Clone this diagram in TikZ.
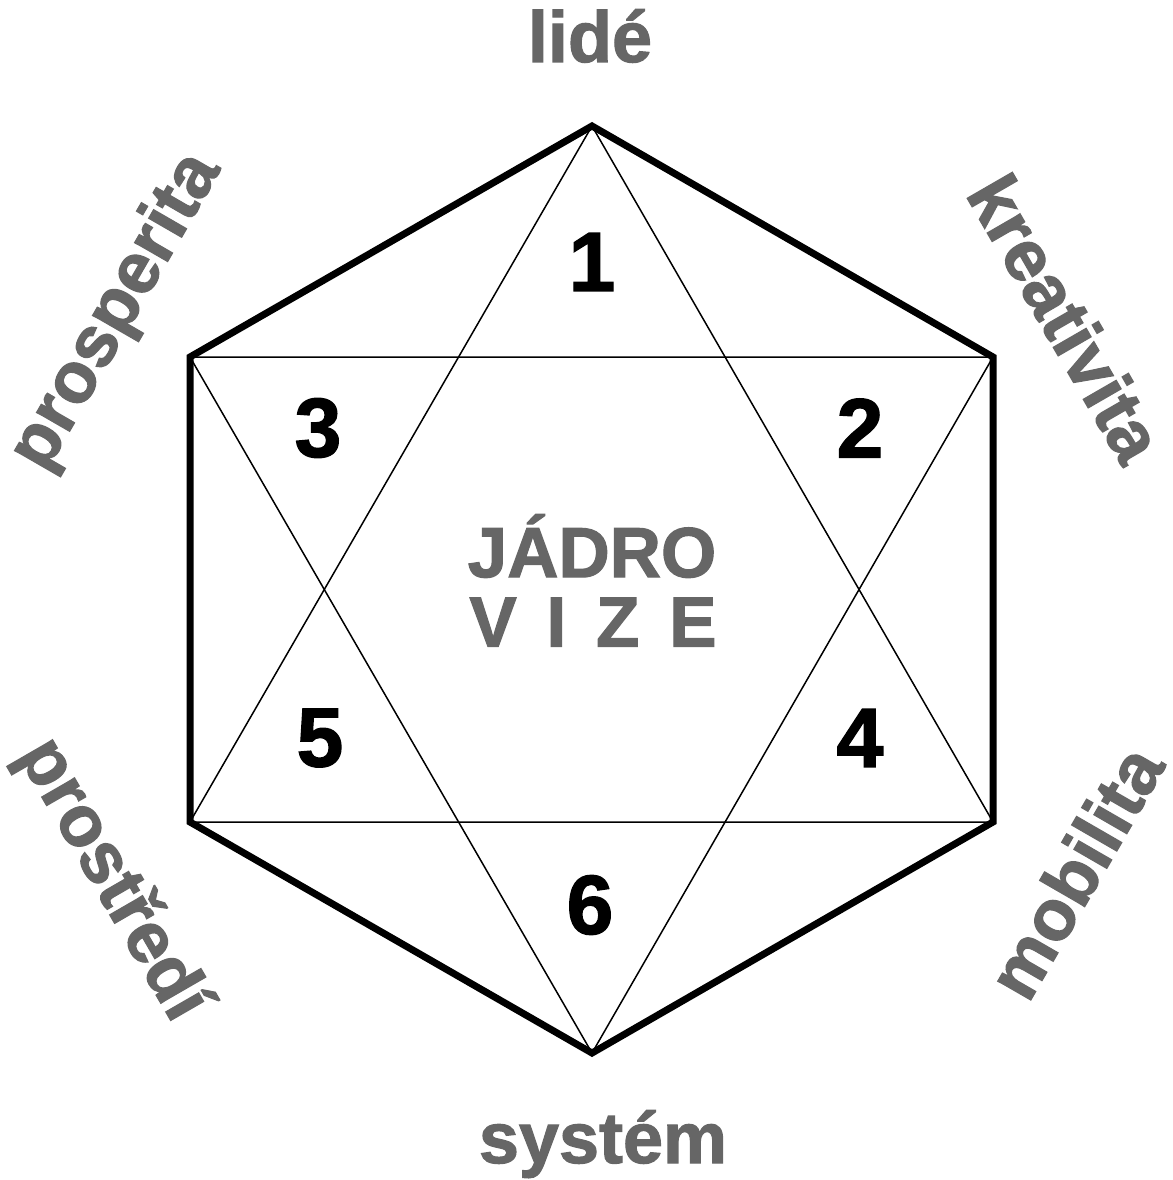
\documentclass[tikz,border=0pt]{standalone}
\usepackage{fontspec}
\setmainfont{Liberation Sans}
\newfontfamily\heavyfont{Liberation Sans Bold}[FakeBold=1.6]
\definecolor{lblgray}{HTML}{666666}
\begin{document}
\begin{tikzpicture}[x=1pt,y=-1pt,
  hexline/.style={line width=7pt, line join=miter},
  starline/.style={line width=1.5pt, line join=miter},
  num/.style={font=\heavyfont\fontsize{84}{84}\selectfont, text=black, inner sep=0pt},
  lbl/.style={font=\heavyfont\fontsize{72}{72}\selectfont, text=lblgray, inner sep=0pt},
  core/.style={font=\heavyfont\fontsize{71}{71}\selectfont, text=lblgray, inner sep=0pt},
]
\useasboundingbox (0,0) rectangle (1172,1180);
\coordinate (T) at (592,126);
\coordinate (UR) at (993,357);
\coordinate (LR) at (993,822);
\coordinate (B) at (592,1053);
\coordinate (LL) at (190,822);
\coordinate (UL) at (190,357);
% star
\draw[starline] (T) -- (LR) -- (LL) -- cycle;
\draw[starline] (B) -- (UL) -- (UR) -- cycle;
% hexagon
\draw[hexline] (T) -- (UR) -- (LR) -- (B) -- (LL) -- (UL) -- cycle;
% numbers
\node[num] (n1) at (592,262) {1};
\node[num] (n2) at (860,428) {2};
\node[num] (n3) at (318,428) {3};
\node[num] (n4) at (860,738) {4};
\node[num] (n5) at (320,738) {5};
\node[num] (n6) at (590,905) {6};
% core
\node[core] (jadro) at (592,546) {JÁDRO};
\node[core] (vize) at (593,622) {V\hspace{0.42em}I\hspace{0.42em}Z\hspace{0.42em}E};
% outer labels
\node[lbl, anchor=base] (lide) at (590,62) {lidé};
\node[lbl, anchor=base] (system) at (603,1163) {systém};
\node[lbl, rotate=-60] (kreat) at (1066,318) {kreativita};
\node[lbl, rotate=60] (prosp) at (117,312) {prosperita};
\node[lbl, rotate=60] (mobil) at (1075,872) {mobilita};
\node[lbl, rotate=-60] (prostr) at (112,880) {prostředí};
\end{tikzpicture}
\end{document}
